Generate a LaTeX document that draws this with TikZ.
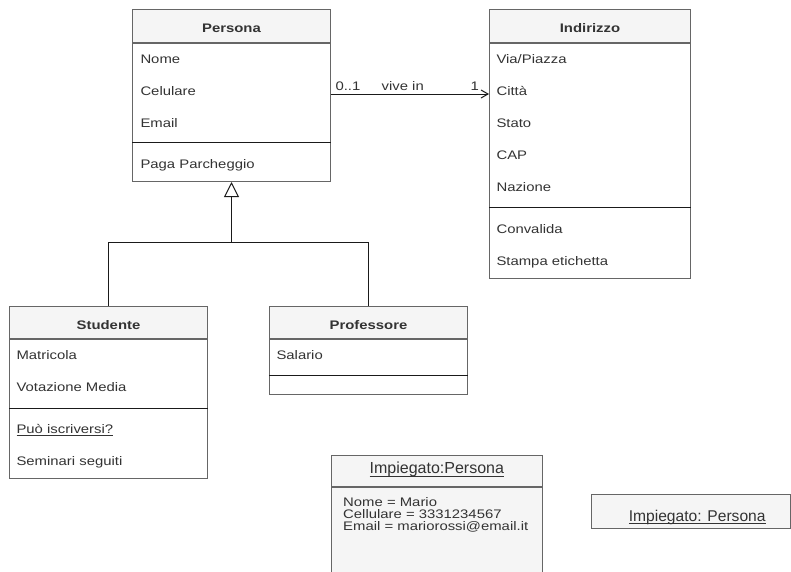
\documentclass[tikz,border=0pt]{standalone}
\usepackage{fontspec}
\setmainfont{Liberation Sans}[FakeStretch=1.2]
\newfontfamily\titlefont{Liberation Sans}
\usetikzlibrary{arrows.meta,calc}
\definecolor{txt}{HTML}{333333}
\definecolor{brd}{HTML}{666666}
\definecolor{hdr}{HTML}{F5F5F5}
\definecolor{lin}{HTML}{1A1A1A}
\newcommand\myul[2][2.9pt]{\setbox0\hbox{#2}\rlap{\rule[-#1]{\wd0}{0.9pt}}\box0}
\begin{document}
\begin{tikzpicture}[x=1pt,y=-1pt, line width=1pt,
  every node/.style={text=txt},
  head/.style={draw=brd, fill=hdr, anchor=north west, inner sep=0pt, text height=12.8pt, text depth=0pt, font=\fontsize{12.4}{14}\selectfont\bfseries},
  body/.style={draw=brd, fill=white, anchor=north west, inner sep=0pt},
  row/.style={anchor=base west, inner sep=0pt, font=\fontsize{12.4}{14}\selectfont},
  lbl/.style={inner sep=0pt, font=\fontsize{12.4}{14}\selectfont},
  sep/.style={draw=lin},
  conn/.style={draw=lin},
  objhead/.style={draw=brd, fill=hdr, anchor=north west, inner sep=0pt, font=\titlefont\fontsize{16}{18}\selectfont}]
\useasboundingbox (0,0) rectangle (791,571);

% ---------- Persona ----------
\node[head, minimum width=198pt, minimum height=32.7pt] (persona) at (132,9) {Persona};
\node[body, minimum width=198pt, minimum height=138.3pt] (personaBody) at (persona.south west) {};
\node[row] (pNome) at (140,63.3) {Nome};
\node[row] (pCel) at (140,95.3) {Celulare};
\node[row] (pEmail) at (140,127.3) {Email};
\draw[sep] (personaBody.west |- 0,142.7) -- (personaBody.east |- 0,142.7);
\node[row] (pPaga) at (140,168.5) {Paga Parcheggio};

% ---------- Indirizzo ----------
\node[head, minimum width=201pt, minimum height=32.7pt] (indirizzo) at (489,9) {Indirizzo};
\node[body, minimum width=201pt, minimum height=235pt] (indirizzoBody) at (indirizzo.south west) {};
\node[row] (iVia) at (496,63.3) {Via/Piazza};
\node[row] (iCitta) at (496,95.3) {Città};
\node[row] (iStato) at (496,127.3) {Stato};
\node[row] (iCap) at (496,159.3) {CAP};
\node[row] (iNaz) at (496,191.3) {Nazione};
\draw[sep] (indirizzoBody.west |- 0,207) -- (indirizzoBody.east |- 0,207);
\node[row] (iConv) at (496,233) {Convalida};
\node[row] (iStampa) at (496,265) {Stampa etichetta};

% ---------- Studente ----------
\node[head, minimum width=198pt, minimum height=32.3pt] (studente) at (9,306) {Studente};
\node[body, minimum width=198pt, minimum height=138.4pt] (studenteBody) at (studente.south west) {};
\node[row] (sMat) at (16,359.5) {Matricola};
\node[row] (sVot) at (16,391.2) {Votazione Media};
\draw[sep] (studenteBody.west |- 0,408) -- (studenteBody.east |- 0,408);
\node[row] (sPuo) at (16,433.5) {\myul[2.4pt]{Può iscriversi?}};
\node[row] (sSem) at (16,465.5) {Seminari seguiti};

% ---------- Professore ----------
\node[head, minimum width=198pt, minimum height=32.3pt] (professore) at (269,306) {Professore};
\node[body, minimum width=198pt, minimum height=54.4pt] (professoreBody) at (professore.south west) {};
\node[row] (prSal) at (276,359.5) {Salario};
\draw[sep] (professoreBody.west |- 0,375.7) -- (professoreBody.east |- 0,375.7);

% ---------- Impiegato:Persona (object) ----------
\node[objhead, minimum width=210.7pt, minimum height=30.7pt, text height=11.5pt, text depth=5.5pt] (imp1) at (331,455) {\myul[2.9pt]{Impiegato:Persona}};
\node[body, fill=hdr, minimum width=210.7pt, minimum height=95pt] (imp1Body) at (imp1.south west) {};
\node[row] (imp1Nome) at (342.7,506.7) {Nome = Mario};
\node[row] (imp1Cel) at (342.7,518.4) {Cellulare = 3331234567};
\node[row] (imp1Email) at (342.7,530.1) {Email = mariorossi@email.it};

% ---------- Impiegato: Persona ----------
\node[body, fill=hdr, minimum width=199pt, minimum height=34pt] (imp2) at (591,494) {};
\node[anchor=base, inner sep=0pt, font=\titlefont\fontsize{15.6}{18}\selectfont] (imp2Title) at (697.2,521) {\myul[2.9pt]{Impiegato: Persona}};

% ---------- Association ----------
\coordinate (assocY) at (0,94);
\draw[conn, -{Straight Barb[length=7pt,width=8pt]}] (persona.east |- assocY) -- (indirizzo.west |- assocY);
\node[lbl, anchor=base west] (mult1) at (335,90.7) {0..1};
\node[lbl, anchor=base] (assocName) at (402.7,90.7) {vive in};
\node[lbl, anchor=base east] (mult2) at (479.3,90.7) {1};

% ---------- Generalization ----------
\coordinate (gj) at (personaBody.south |- 0,242.7);
\draw[conn, -{Triangle[open, length=15pt, width=15pt, fill=white]}] (studente.north) |- (gj) -- (personaBody.south);
\draw[conn] (professore.north) |- (gj);
\end{tikzpicture}
\end{document}
